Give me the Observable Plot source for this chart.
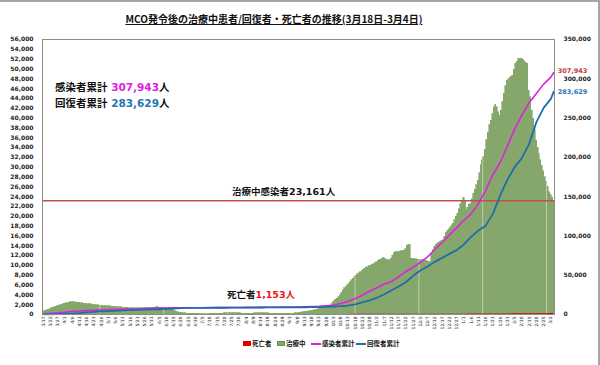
<!DOCTYPE html>
<html><head><meta charset="utf-8">
<script src="https://cdn.jsdelivr.net/npm/d3@7"></script>
<script src="https://cdn.jsdelivr.net/npm/@observablehq/plot@0.6"></script>
<style>
html,body{margin:0;padding:0;background:#fff;}
#wrap{position:relative;width:600px;height:365px;overflow:hidden;font-family:"Noto Sans CJK JP",sans-serif;color:#111;}
#wrap svg{position:absolute;left:0;top:0;}
.ann{position:absolute;white-space:nowrap;font-weight:700;line-height:1;font-family:"DejaVu Sans","Noto Sans CJK JP",sans-serif;}
.ann .j{font-family:"Noto Sans CJK JP",sans-serif;}
#title{position:absolute;top:14px;left:0;width:548px;text-align:center;font-size:10px;font-weight:700;text-decoration:underline;line-height:1;white-space:nowrap;}
.lg{position:absolute;top:340px;font-size:6.5px;line-height:1;white-space:nowrap;font-weight:700;}
.sw{position:absolute;}
#frameTop{position:absolute;left:0;top:0;width:598px;height:363px;border-top:2px solid #a6a6a6;border-right:2px solid #a6a6a6;}
</style></head><body><div id="wrap"><div id="frameTop"></div></div>
<script>
// ---- data ----
const startDate = "2020-03-17", endDate = "2021-03-05"; // daily categories 3/17/2020 .. 3/4/2021
// 治療中 (active cases), daily, left axis
const activeCases = [
600,700,800,900,1000,1100,1250,1350,1450,1550,
1650,1750,1850,1950,2050,2150,2250,2330,2400,2450,
2480,2470,2450,2420,2390,2360,2320,2280,2240,2200,
2160,2120,2080,2040,2000,1960,1920,1880,1850,1820,
1790,1760,1730,1700,1680,1660,1640,1620,1600,1580,
1550,1520,1490,1460,1430,1400,1380,1360,1340,1320,
1300,1290,1280,1270,1270,1260,1260,1250,1250,1280,
1320,1350,1370,1380,1370,1360,1390,1420,1440,1430,
1410,1400,1380,1360,1330,1290,1240,1180,1120,1000,
850,700,580,480,400,340,290,250,220,200,
180,170,160,150,140,130,120,110,105,100,
95,90,90,95,100,110,120,130,140,150,
160,170,180,190,200,210,220,230,240,250,
260,260,250,240,230,220,210,200,190,180,
180,180,190,190,200,200,210,220,230,240,
250,250,240,230,220,210,200,190,180,170,
160,150,140,130,120,120,120,130,140,150,
150,160,180,200,230,260,300,340,390,440,
480,520,560,610,660,710,770,820,880,950,
1050,1150,1200,1260,1320,1400,1490,1600,1800,2100,
2450,2800,3000,3200,3500,3900,4400,4900,5300,5700,
6000,6300,6600,6950,7270,7550,7850,8150,8400,8650,
8900,9100,9300,9500,9650,9800,9950,10100,10250,10400,
10600,10800,11000,11200,11400,11540,11300,11100,11000,11000,
11400,12000,12500,12690,12700,12700,12750,12900,13000,13030,
13300,14000,14250,14100,11340,11340,11300,11300,11200,11100,
11050,11000,11000,10950,10900,10800,10650,10700,12350,13100,
13800,14200,14390,14600,14800,14950,15070,15800,16600,17100,
17400,17800,18200,18470,19200,19900,20500,21400,22500,23210,
23800,23000,21170,21700,22300,22540,23500,24570,25400,26300,
27280,28800,30400,31400,32030,33500,35500,37000,38500,39500,
40800,42200,42700,42200,41190,40500,41500,43220,45000,46500,
47640,47900,48190,48400,48660,49800,51040,51500,52060,52060,
52060,51800,51570,51300,51040,45600,44200,41530,39900,37600,
35430,34000,32600,31400,30340,29200,27950,27000,26000,24900,
24300,23800,23161
];
// cumulative series, every 5 days from 3/17 plus the last day (3/4), right axis
const lineDays = [0,5,10,15,20,25,30,35,40,45,50,55,60,65,70,75,80,85,90,95,100,105,110,115,120,125,130,135,140,145,150,155,160,165,170,175,180,185,190,195,200,205,210,215,220,225,230,235,240,245,250,255,260,265,270,275,280,285,290,295,300,305,310,315,320,325,330,335,340,345,350,352];
const cumCases = [673,1518,2161,2908,3793,4346,5182,5482,5780,6071,6383,6656,6855,7059,7604,7819,8247,8336,8494,8535,8596,8639,8674,8718,8737,8800,8904,8964,9023,9063,9129,9200,9285,9334,9374,9583,9946,10052,10358,11034,11771,14000,16500,20000,24500,29500,34000,38500,42000,47900,54700,60200,66200,73400,82700,91600,101000,110300,119600,128100,140800,157800,177700,193500,214200,235900,253700,269400,281300,293200,302100,307943];
const cumRecovered = [49,159,479,767,1241,1830,2647,3349,3862,4326,4702,5281,5646,5859,6236,6404,6698,7184,7633,8033,8344,8403,8513,8542,8567,8584,8627,8710,8781,8826,8882,8977,9067,9137,9150,9178,9219,9320,9450,9840,10100,10600,11400,13000,15500,18000,21300,25500,30500,35600,41100,49200,56000,61100,67000,72100,77200,81900,89100,98800,106900,112800,128100,151500,171400,187500,199000,217200,244800,263000,274500,283629];
const cumDeaths = [2,10,27,45,61,67,86,96,100,102,105,109,112,114,115,115,117,119,121,121,121,121,121,122,122,123,124,125,125,125,125,126,127,128,128,128,128,128,130,134,136,141,157,178,199,229,249,277,300,318,335,350,363,384,402,422,441,457,471,515,555,586,643,700,757,814,896,980,1030,1063,1130,1153];
const leftTicks = d3.range(0, 56001, 2000);
const rightTicks = d3.range(0, 350001, 50000);

// ---- build ----
const fmt = d3.format(",");
const dates = d3.utcDay.range(new Date(startDate), new Date(endDate));
const labels = dates.map(d => `${d.getUTCMonth()+1}/${d.getUTCDate()}`);
const tickLabels = labels.filter((d, i) => i % 5 === 0);
const k = 56000 / 350000;
const bars = labels.map((d, i) => ({date: d, v: activeCases[i]}));
const lines = lineDays.map((d, i) => ({date: labels[d], cases: cumCases[i] * k, rec: cumRecovered[i] * k, deaths: cumDeaths[i] * k}));
const lastActive = activeCases[activeCases.length - 1];
const lastLine = lines[lines.length - 1];
const gridDays = [39, 83, 127, 171, 215, 259, 303, 347];

const chart = Plot.plot({
  width: 600, height: 345,
  marginLeft: 42, marginRight: 46, marginTop: 39, marginBottom: 31,
  style: {fontFamily: "DejaVu Sans, sans-serif", fontSize: "6px", color: "#222", background: "transparent"},
  x: {type: "band", domain: labels, padding: 0},
  y: {domain: [0, 56000]},
  marks: [
    Plot.barY(bars, {x: "date", y: "v", fill: "#86a76b", stroke: "#86a76b", strokeWidth: 0.6, shapeRendering: "crispEdges"}),
    Plot.ruleX(gridDays.map(i => bars[i]), {x: "date", y1: 0, y2: "v", stroke: "#ffffff", strokeOpacity: 0.45, strokeWidth: 1}),
    Plot.areaY(lines, {x: "date", y: "deaths", fill: "#e00000"}),
    Plot.ruleY([lastActive], {stroke: "#c0504d", strokeWidth: 1.3}),
    Plot.line(lines, {x: "date", y: "cases", stroke: "#e020e0", strokeWidth: 1.6}),
    Plot.line(lines, {x: "date", y: "rec", stroke: "#1f6ea8", strokeWidth: 1.8}),
    Plot.frame({stroke: "#8c8c8c"}),
    Plot.axisY({ticks: leftTicks, tickFormat: fmt, tickSize: 0, tickPadding: 9, label: null, fontWeight: "bold", fontSize: 6}),
    Plot.axisY({anchor: "right", ticks: rightTicks.map(v => v * k), tickFormat: v => fmt(Math.round(v / k)), tickSize: 0, tickPadding: 9, label: null, fontWeight: "bold", fontSize: 6}),
    Plot.axisX({ticks: tickLabels, tickRotate: -90, tickSize: 0, tickPadding: 2, label: null, fontSize: 4.5}),
    Plot.text([lastLine], {x: "date", y: "cases", text: d => fmt(cumCases[cumCases.length-1]), dx: 4, dy: -2, textAnchor: "start", fill: "#c83a3a", fontSize: 6.5, fontWeight: "bold"}),
    Plot.text([lastLine], {x: "date", y: "rec", text: d => fmt(cumRecovered[cumRecovered.length-1]), dx: 4, dy: 0, textAnchor: "start", fill: "#2e75b6", fontSize: 6.5, fontWeight: "bold"})
  ]
});
const wrap = document.getElementById("wrap");
wrap.appendChild(chart);

function addHTML(html) { wrap.insertAdjacentHTML("beforeend", html); }
addHTML(`<div id="title">MCO発令後の治療中患者/回復者・死亡者の推移(3月18日-3月4日)</div>`);
addHTML(`<div class="ann" style="left:55px;top:82px;font-size:10.5px"><span class="j">感染者累計</span> <span style="color:#e01ee0">${fmt(cumCases[cumCases.length-1])}</span><span class="j">人</span></div>`);
addHTML(`<div class="ann" style="left:55px;top:98px;font-size:10.5px"><span class="j">回復者累計</span> <span style="color:#2077b4">${fmt(cumRecovered[cumRecovered.length-1])}</span><span class="j">人</span></div>`);
addHTML(`<div class="ann" style="left:232px;top:187px;font-size:9.5px"><span class="j">治療中感染者</span>${fmt(lastActive)}<span class="j">人</span></div>`);
addHTML(`<div class="ann" style="left:227px;top:290px;font-size:9.5px"><span class="j">死亡者</span><span style="color:#e8141c">${fmt(cumDeaths[cumDeaths.length-1])}<span class="j">人</span></span></div>`);
// legend
addHTML(`<div class="sw" style="left:243px;top:341px;width:8px;height:5px;background:#e00000"></div>`);
addHTML(`<div class="lg" style="left:252px">死亡者</div>`);
addHTML(`<div class="sw" style="left:277px;top:341px;width:8px;height:5px;background:#86a76b;border:0.5px solid #6d8c55;box-sizing:border-box"></div>`);
addHTML(`<div class="lg" style="left:286px">治療中</div>`);
addHTML(`<div class="sw" style="left:311px;top:343px;width:10px;height:2px;background:#e020e0"></div>`);
addHTML(`<div class="lg" style="left:322px">感染者累計</div>`);
addHTML(`<div class="sw" style="left:356px;top:343px;width:10px;height:2px;background:#1f6ea8"></div>`);
addHTML(`<div class="lg" style="left:367px">回復者累計</div>`);
</script></body></html>
